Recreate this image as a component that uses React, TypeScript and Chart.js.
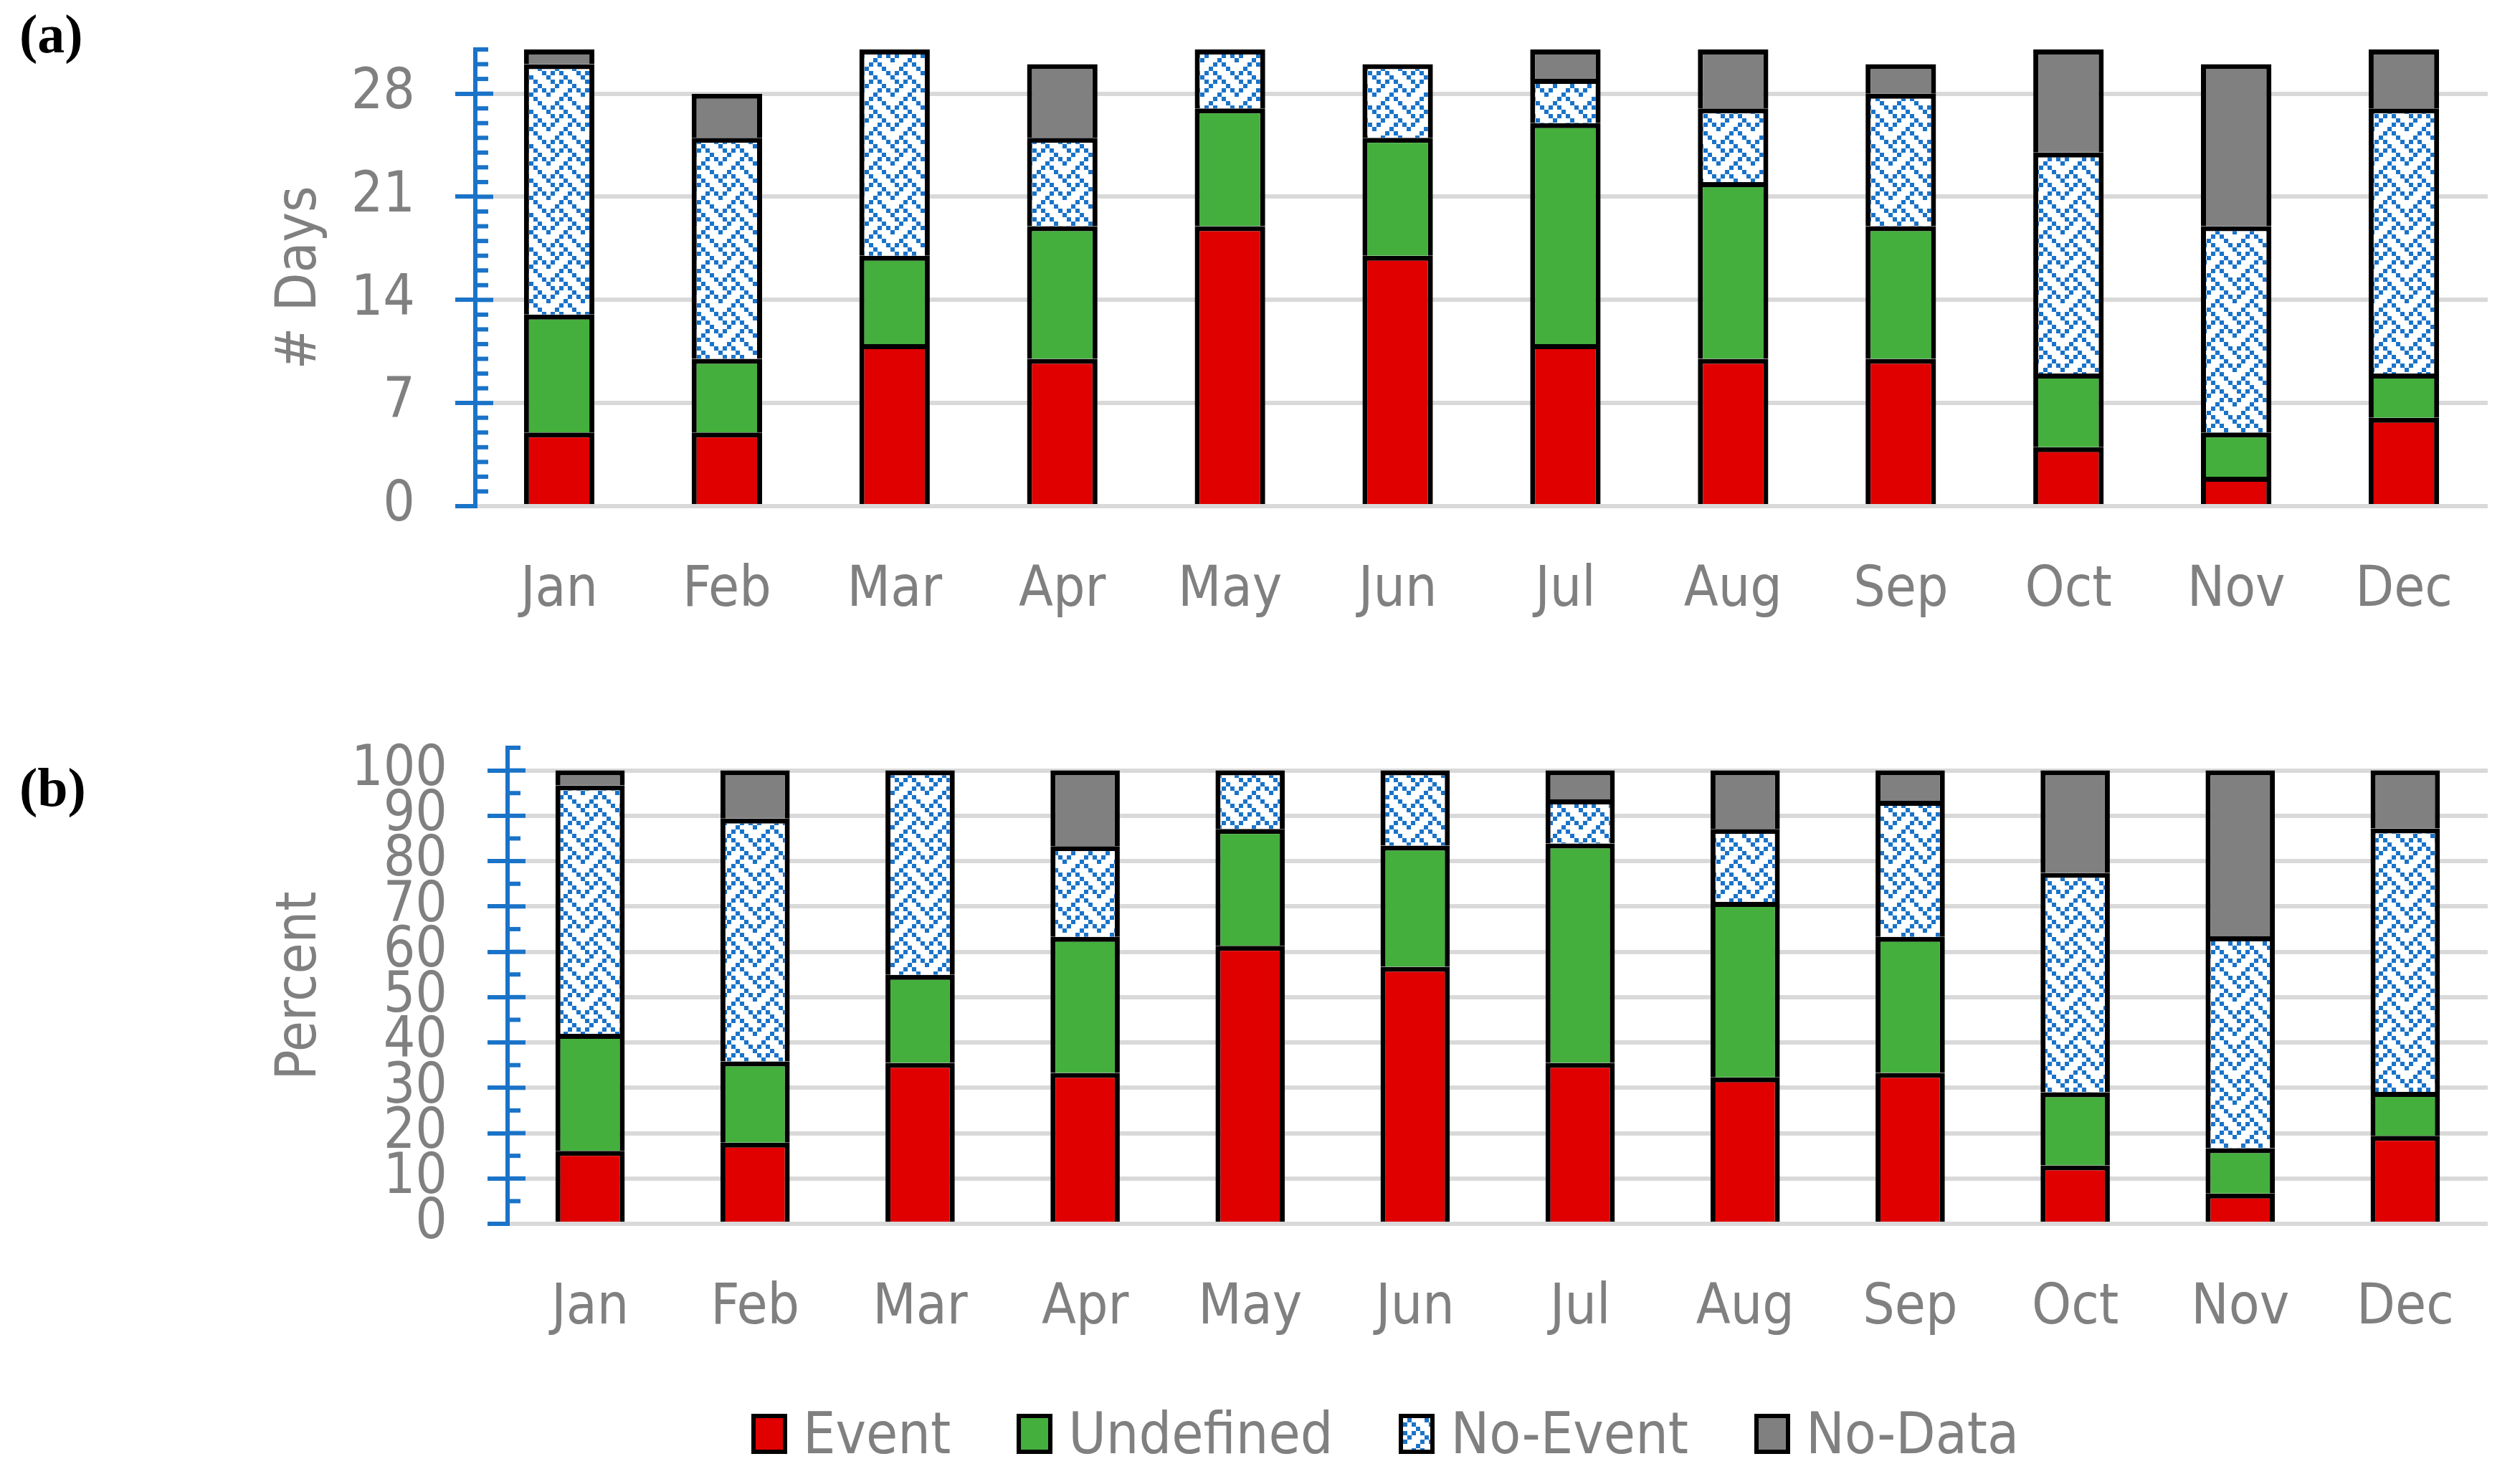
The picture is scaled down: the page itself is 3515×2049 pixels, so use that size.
import React, { useEffect, useRef } from 'react';
import { Chart, registerables } from 'chart.js';

Chart.register(...registerables);

// ---- data ----
const months = ['Jan', 'Feb', 'Mar', 'Apr', 'May', 'Jun', 'Jul', 'Aug', 'Sep', 'Oct', 'Nov', 'Dec'];
const seriesNames = ['Event', 'Undefined', 'No-Event', 'No-Data'];

// (a) number of days
const eventDays = [5, 5, 11, 10, 19, 17, 11, 10, 10, 4, 2, 6];
const undefinedDays = [8, 5, 6, 9, 8, 8, 15, 12, 9, 5, 3, 3];
const noEventDays = [17, 15, 14, 6, 4, 5, 3, 5, 9, 15, 14, 18];
const noDataDays = [1, 3, 0, 5, 0, 0, 2, 4, 2, 7, 11, 4];

// (b) percent
const eventPct = [16.1, 17.9, 35.5, 33.3, 61.3, 56.7, 35.5, 32.3, 33.3, 12.9, 6.7, 19.4];
const undefinedPct = [25.8, 17.9, 19.4, 30.0, 25.8, 26.7, 48.4, 38.7, 30.0, 16.1, 10.0, 9.7];
const noEventPct = [54.8, 53.6, 45.1, 20.0, 12.9, 16.6, 9.7, 16.1, 30.0, 48.4, 46.7, 58.1];
const noDataPct = [3.3, 10.6, 0, 16.7, 0, 0, 6.4, 12.9, 6.7, 22.6, 36.6, 12.8];

// labelled (major) ticks
const dayTicks = [0, 7, 14, 21, 28];
const pctTicks = [0, 10, 20, 30, 40, 50, 60, 70, 80, 90, 100];

const FONT = "'DejaVu Sans Condensed', 'DejaVu Sans', sans-serif";
const FONT_SIZE = 78;
const TEXT_GREY = '#808080';
const AXIS_BLUE = '#1A73C8';
const GRID_GREY = '#D9D9D9';
const RED = '#E00000';
const GREEN = '#44AF3C';
const DARK_GREY = '#808080';

// blue "weave" fill used for No-Event
const WEAVE = [
  '01000100',
  '10100010',
  '00010001',
  '10101000',
  '01000100',
  '10001010',
  '00010001',
  '00101000',
];

function makeWeave(): HTMLCanvasElement {
  const cell = 6;
  const c = document.createElement('canvas');
  c.width = cell * 8;
  c.height = cell * 8;
  const g = c.getContext('2d')!;
  g.fillStyle = '#fff';
  g.fillRect(0, 0, c.width, c.height);
  g.fillStyle = AXIS_BLUE;
  WEAVE.forEach((row, r) => {
    row.split('').forEach((v, k) => {
      if (v === '1') g.fillRect(k * cell, r * cell, cell, cell);
    });
  });
  return c;
}

const weaveCanvas = makeWeave();

const isTick = (list: number[], v: number) =>
  Math.abs(v - Math.round(v)) < 1e-6 && list.includes(Math.round(v));

// room above the plot area inside each canvas (must exceed the y-scale's own label padding)
const TOP_ROOM = 120;

interface PanelProps {
  areaTop: number; // page y of the top of the value axis
  zeroY: number; // page y of the zero line
  xAxisHeight: number;
  axisRight: number; // page x of the plot area's left edge
  values: number[][];
  max: number;
  step: number;
  labelled: number[];
  title: string;
}

function Panel({ areaTop, zeroY, xAxisHeight, axisRight, values, max, step, labelled, title }: PanelProps) {
  const canvasRef = useRef<HTMLCanvasElement>(null);
  const top = areaTop - TOP_ROOM;
  const height = zeroY - top + xAxisHeight;

  useEffect(() => {
    if (!canvasRef.current) return;
    const ctx = canvasRef.current.getContext('2d');
    if (!ctx) return;

    const weave = ctx.createPattern(weaveCanvas, 'repeat');
    const fills = [RED, GREEN, weave, DARK_GREY];

    // small blue ticks on the inner side of the value axis
    const innerTicks = {
      id: 'innerTicks',
      afterDatasetsDraw(chart: any) {
        const s = chart.scales.y;
        const c = chart.ctx;
        const x0 = s.right - 3;
        c.save();
        c.strokeStyle = AXIS_BLUE;
        c.lineWidth = 6;
        s.ticks.forEach((t: any) => {
          if (t.value === 0) return;
          const y = s.getPixelForValue(t.value);
          const len = isTick(labelled, t.value) ? 28 : 21;
          c.beginPath();
          c.moveTo(x0, y);
          c.lineTo(x0 + len, y);
          c.stroke();
        });
        c.restore();
      },
    };

    const chart = new Chart(ctx, {
      type: 'bar',
      data: {
        labels: months,
        datasets: seriesNames.map((name, i) => ({
          label: name,
          data: values[i],
          backgroundColor: fills[i] as any,
          borderColor: '#000',
          borderWidth: { top: 7, left: 7, right: 7, bottom: 0 },
          borderSkipped: 'bottom',
          barPercentage: 0.42,
          categoryPercentage: 1,
        })),
      },
      options: {
        animation: false,
        responsive: false,
        devicePixelRatio: 1,
        events: [],
        layout: { padding: { top: TOP_ROOM, right: 45, left: 0, bottom: 0 } },
        plugins: {
          legend: { display: false },
          tooltip: { enabled: false },
        },
        scales: {
          x: {
            stacked: true,
            grid: { display: false, drawTicks: false },
            border: { display: false },
            ticks: {
              color: TEXT_GREY,
              font: { family: FONT, size: FONT_SIZE },
              padding: 72,
              autoSkip: false,
              maxRotation: 0,
            },
            afterFit: (s: any) => {
              s.height = xAxisHeight;
            },
          },
          y: {
            stacked: true,
            min: 0,
            max,
            ticks: {
              stepSize: step,
              autoSkip: false,
              padding: 56,
              color: TEXT_GREY,
              font: { family: FONT, size: FONT_SIZE },
              callback: (v: any) => (isTick(labelled, Number(v)) ? String(Math.round(Number(v))) : ''),
            },
            grid: {
              color: (c: any) => (isTick(labelled, c.tick.value) ? GRID_GREY : 'rgba(0,0,0,0)'),
              lineWidth: 6,
              tickLength: 28,
              tickWidth: 6,
              tickColor: (c: any) => (isTick(labelled, c.tick.value) ? AXIS_BLUE : 'rgba(0,0,0,0)'),
            },
            border: { color: AXIS_BLUE, width: 6 },
            title: {
              display: true,
              text: title,
              color: TEXT_GREY,
              font: { family: FONT, size: FONT_SIZE },
              padding: { top: 373, bottom: 0 },
            },
            afterFit: (s: any) => {
              s.width = axisRight;
            },
          },
        },
      },
      plugins: [innerTicks],
    });

    return () => {
      chart.destroy();
    };
  }, []);

  return (
    <canvas
      ref={canvasRef}
      width={3515}
      height={height}
      style={{ position: 'absolute', left: 0, top, width: 3515, height }}
    />
  );
}

function Legend() {
  const swatch = [RED, GREEN, `url(${weaveCanvas.toDataURL()})`, DARK_GREY];
  return (
    <div
      style={{
        position: 'absolute',
        left: 1048,
        top: 1970,
        display: 'flex',
        alignItems: 'center',
        font: `80px ${FONT}`,
        lineHeight: '60px',
        color: TEXT_GREY,
        whiteSpace: 'nowrap',
      }}
    >
      {seriesNames.map((name, i) => (
        <div key={name} style={{ display: 'flex', alignItems: 'center', marginRight: 92 }}>
          <span
            style={{
              display: 'inline-block',
              width: 50,
              height: 56,
              boxSizing: 'border-box',
              border: '6px solid #000',
              background: swatch[i],
              marginRight: 22,
            }}
          />
          {name}
        </div>
      ))}
    </div>
  );
}

export default function App() {
  const panelLabel = { position: 'absolute' as const, left: 27, font: 'bold 76px "Liberation Serif"', lineHeight: 1, color: '#000' };
  return (
    <div style={{ position: 'absolute', left: 0, top: 0, width: 3515, height: 2049, background: '#fff', overflow: 'hidden' }}>
      <Panel
        areaTop={69}
        zeroY={706}
        xAxisHeight={195}
        axisRight={663}
        values={[eventDays, undefinedDays, noEventDays, noDataDays]}
        max={31}
        step={1}
        labelled={dayTicks}
        title="# Days"
      />
      <Panel
        areaTop={1043}
        zeroY={1707}
        xAxisHeight={213}
        axisRight={708}
        values={[eventPct, undefinedPct, noEventPct, noDataPct]}
        max={105}
        step={5}
        labelled={pctTicks}
        title="Percent"
      />
      <div style={{ ...panelLabel, top: 9 }}>(a)</div>
      <div style={{ ...panelLabel, top: 1060 }}>(b)</div>
      <Legend />
    </div>
  );
}
